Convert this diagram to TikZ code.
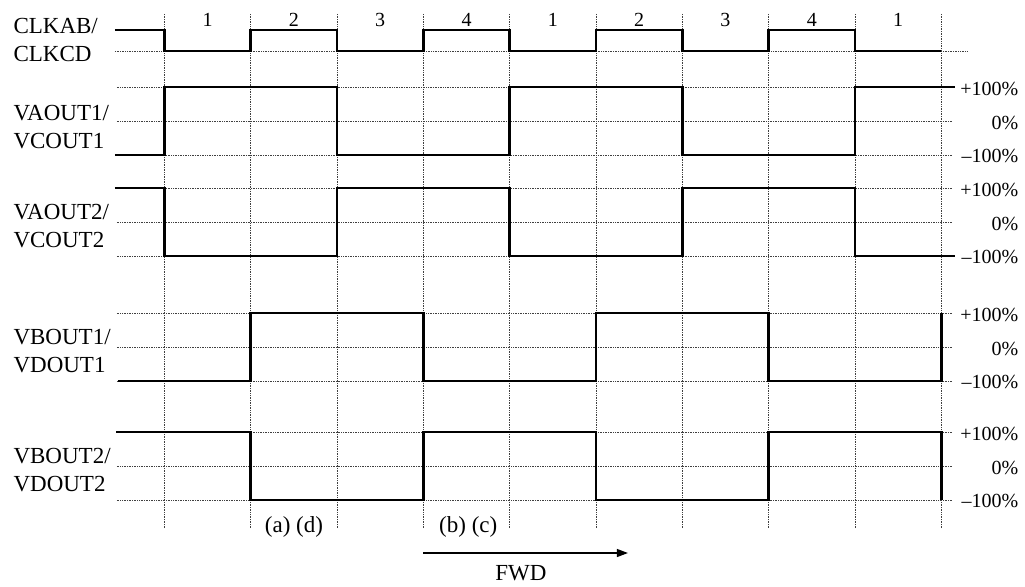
\documentclass[tikz,border=0pt]{standalone}
\usepackage{fontspec}
\setmainfont{Liberation Serif}
\usepackage{tikz}
\usetikzlibrary{arrows.meta,positioning}

\tikzset{
  grid/.style={densely dotted, line width=0.7pt, black!75},
  wave/.style={line width=2.8pt, line join=miter},
  sig/.style={anchor=west, align=left, font=\fontsize{23}{28}\selectfont},
  pct/.style={anchor=east, font=\fontsize{20}{24}\selectfont},
  slot/.style={font=\fontsize{20}{24}\selectfont},
}

\begin{document}
\begin{tikzpicture}[x=86.3pt, y=-1pt]
    \useasboundingbox (-1.906,0) rectangle (9.971,586);

    % time grid
    \foreach \t in {0,...,9}
      \draw[grid] (\t,14) -- (\t,528);
    \draw[grid] (-0.574,51) -- (9.31,51);
    \foreach \lv in {87,121,155,188,222,256,313,347,381,432,466,500}
      \draw[grid] (-0.553,\lv) -- (9.137,\lv);

    % clock phases
    \foreach \n [count=\i from 0] in {1,2,3,4,1,2,3,4,1}
      \node[slot] (ph\i) at (\i+0.5,20) {\n};

    % signal names
    \node[sig] (clk) at (-1.79,40) {CLKAB/\\CLKCD};
    \node[sig] (vaone) at (-1.79,127) {VAOUT1/\\VCOUT1};
    \node[sig] (vatwo) at (-1.79,226) {VAOUT2/\\VCOUT2};
    \node[sig] (vbone) at (-1.79,351) {VBOUT1/\\VDOUT1};
    \node[sig] (vbtwo) at (-1.79,470) {VBOUT2/\\VDOUT2};

    % levels
    \foreach \lv/\nm in {87/a,188/b,313/c,432/d}{
      \node[pct] (hi\nm) at (9.935,\lv+2) {+100\%};
      \node[pct] (mid\nm) at (9.935,\lv+36) {0\%};
      \node[pct] (lo\nm) at (9.935,\lv+69) {--100\%};
    }

    % waveforms
    \draw[wave] (-0.574,30) -| (0,51) -| (1,30) -| (2,51) -| (3,30) -| (4,51)
      -| (5,30) -| (6,51) -| (7,30) -| (8,51) -- (9,51);
    \draw[wave] (-0.574,155) -| (0,87) -| (2,155) -| (4,87) -| (6,155) -| (8,87) -- (9.16,87);
    \draw[wave] (-0.574,188) -| (0,256) -| (2,188) -| (4,256) -| (6,188) -| (8,256) -- (9.16,256);
    \draw[wave] (-0.54,381) -| (1,313) -| (3,381) -| (5,313) -| (7,381) -| (9,313);
    \draw[wave] (-0.56,432) -| (1,500) -| (3,432) -| (5,500) -| (7,432) -| (9,500);

    % cases and direction
    \node[sig, anchor=center] (ad) at (1.5,527) {(a) (d)};
    \node[sig, anchor=center] (bc) at (3.52,527) {(b) (c)};
    \coordinate (fwdA) at (3,553);
    \coordinate (fwdB) at (5.37,553);
    \draw[line width=1.2pt, -{Triangle[length=11pt,width=8pt]}] (fwdA) -- (fwdB);
    \node[sig, anchor=center] (fwd) at (4.13,573) {FWD};
\end{tikzpicture}
\end{document}
